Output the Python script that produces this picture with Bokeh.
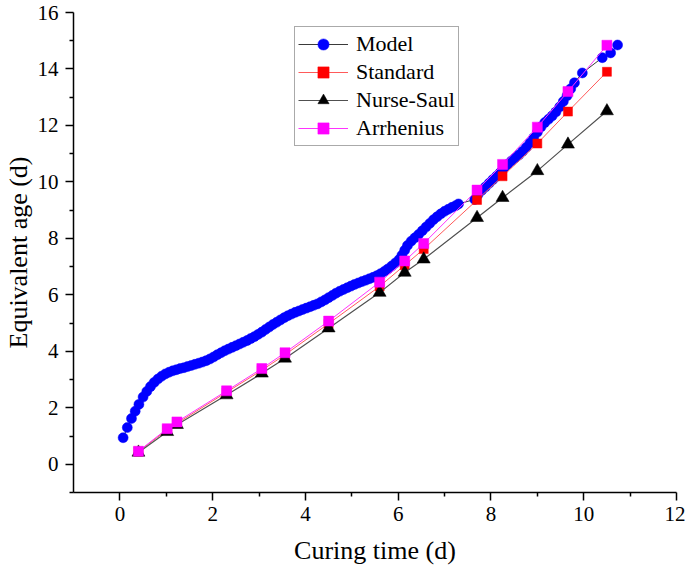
from bokeh.plotting import figure
from bokeh.models import FixedTicker, Legend, LegendItem, Range1d
from bokeh.embed import file_html
from bokeh.resources import INLINE

# ---------------- data ----------------
model_x = [0.07, 0.16, 0.25, 0.33, 0.41, 0.50, 0.58, 0.66, 0.74, 0.82, 0.90, 0.98,
           1.06, 1.14, 1.22, 1.30, 1.38, 1.46, 1.54, 1.62, 1.70, 1.78, 1.86, 1.94,
           2.02, 2.10, 2.18, 2.26, 2.34, 2.42, 2.50, 2.58, 2.66, 2.74, 2.82, 2.90,
           2.98, 3.06, 3.14, 3.22, 3.30, 3.38, 3.46, 3.54, 3.62, 3.70, 3.78, 3.86,
           3.94, 4.02, 4.10, 4.18, 4.26, 4.34, 4.42, 4.50, 4.58, 4.66, 4.74, 4.82,
           4.90, 4.98, 5.06, 5.14, 5.22, 5.30, 5.38, 5.46, 5.54, 5.62, 5.70, 5.78,
           5.86, 5.94, 6.02, 6.08, 6.14, 6.20, 6.28, 6.36, 6.44, 6.52, 6.60, 6.68,
           6.76, 6.84, 6.92, 7.00, 7.08, 7.16, 7.24, 7.30,
           7.65, 7.72, 7.80, 7.88, 7.96, 8.04, 8.12, 8.20, 8.28, 8.36, 8.44, 8.52,
           8.60, 8.68, 8.76, 8.84, 8.92, 9.00, 9.08, 9.16, 9.24, 9.32, 9.40, 9.48,
           9.56, 9.64, 9.72, 9.80, 9.97, 10.40, 10.58, 10.73]
model_y = [0.94, 1.30, 1.62, 1.88, 2.12, 2.38, 2.58, 2.75, 2.90, 3.02, 3.12, 3.20,
           3.26, 3.31, 3.35, 3.39, 3.42, 3.46, 3.50, 3.54, 3.58, 3.62, 3.67, 3.73,
           3.80, 3.88, 3.95, 4.02, 4.08, 4.14, 4.20, 4.26, 4.32, 4.38, 4.45, 4.52,
           4.60, 4.68, 4.77, 4.86, 4.95, 5.03, 5.11, 5.19, 5.26, 5.32, 5.38, 5.43,
           5.48, 5.53, 5.58, 5.63, 5.68, 5.75, 5.82, 5.90, 5.98, 6.06, 6.13, 6.19,
           6.25, 6.31, 6.37, 6.42, 6.47, 6.52, 6.57, 6.62, 6.68, 6.75, 6.83, 6.92,
           7.02, 7.13, 7.25, 7.40, 7.58, 7.75, 7.90, 8.02, 8.14, 8.27, 8.40, 8.53,
           8.66, 8.77, 8.87, 8.96, 9.03, 9.10, 9.16, 9.22,
           9.38, 9.55, 9.70, 9.82, 9.95, 10.08, 10.20, 10.33, 10.48, 10.62, 10.74, 10.85,
           10.95, 11.08, 11.22, 11.38, 11.56, 11.76, 11.95, 12.10, 12.22, 12.34, 12.48, 12.65,
           12.85, 13.05, 13.30, 13.51, 13.86, 14.40, 14.57, 14.85]

time_d = [0.40, 1.02, 1.23, 2.30, 3.06, 3.56, 4.50, 5.60, 6.14, 6.55, 7.70, 8.25, 9.00, 9.66, 10.50]
standard = [0.45, 1.22, 1.45, 2.55, 3.33, 3.88, 4.98, 6.30, 7.05, 7.62, 9.36, 10.20, 11.36, 12.49, 13.90]
nurse_saul = [0.42, 1.15, 1.40, 2.45, 3.22, 3.75, 4.82, 6.08, 6.79, 7.26, 8.73, 9.44, 10.39, 11.33, 12.51]
arrhenius = [0.46, 1.26, 1.50, 2.60, 3.39, 3.95, 5.07, 6.45, 7.20, 7.82, 9.71, 10.62, 11.94, 13.20, 14.84]

x_ticks = [0, 2, 4, 6, 8, 10, 12]
x_minor = [1, 3, 5, 7, 9, 11]
y_ticks = [0, 2, 4, 6, 8, 10, 12, 14, 16]
y_minor = [-1, 1, 3, 5, 7, 9, 11, 13, 15]

FONT = "Liberation Serif"

p = figure(frame_width=603, frame_height=480, output_backend="svg", toolbar_location=None,
           x_range=Range1d(-1, 12), y_range=Range1d(-1, 16),
           min_border_left=64, min_border_right=9, min_border_top=12, min_border_bottom=80)
p.outline_line_color = None
p.xgrid.visible = False
p.ygrid.visible = False
p.background_fill_color = "white"
p.border_fill_color = "white"

for ax, ticks, minor in ((p.xaxis[0], x_ticks, x_minor), (p.yaxis[0], y_ticks, y_minor)):
    ax.ticker = FixedTicker(ticks=ticks, minor_ticks=minor)
    ax.axis_line_color = "black"
    ax.axis_line_width = 1.5
    ax.major_tick_line_color = "black"
    ax.major_tick_line_width = 1.5
    ax.minor_tick_line_color = "black"
    ax.minor_tick_line_width = 1.5
    ax.major_tick_out = 8
    ax.major_tick_in = 0
    ax.minor_tick_out = 4
    ax.minor_tick_in = 0
    ax.major_label_text_font = FONT
    ax.major_label_text_font_size = "21px"
    ax.major_label_text_color = "black"
    ax.axis_label_text_font = FONT
    ax.axis_label_text_font_style = "normal"
    ax.axis_label_text_font_size = "26px"
    ax.axis_label_text_color = "black"

p.xaxis.axis_label = "Curing time (d)"
p.yaxis.axis_label = "Equivalent age (d)"
p.xaxis.major_label_standoff = 6
p.xaxis.axis_label_standoff = 12
p.yaxis.major_label_standoff = 7
p.yaxis.axis_label_standoff = 2

# Model
m_line = p.line(model_x, model_y, line_color="#3a3a3a", line_width=1)
m_pts = p.scatter(model_x, model_y, marker="circle", size=10, fill_color="#0000ff",
                  line_color="#0000ff", line_width=0.5)
# Standard
s_line = p.line(time_d, standard, line_color="#ff5a5a", line_width=1)
s_pts = p.scatter(time_d, standard, marker="square", size=9, fill_color="#ff0000",
                  line_color="#ff0000", line_width=0.5)
# Nurse-Saul
n_line = p.line(time_d, nurse_saul, line_color="#505050", line_width=1.2)
n_pts = p.scatter(time_d, nurse_saul, marker="triangle", size=13, fill_color="black",
                  line_color="black", line_width=0.5)
# Arrhenius
a_line = p.line(time_d, arrhenius, line_color="#ff33ff", line_width=1)
a_pts = p.scatter(time_d, arrhenius, marker="square", size=10, fill_color="#ff00ff",
                  line_color="#ff00ff", line_width=0.5)

legend = Legend(items=[
    LegendItem(label="Model", renderers=[m_line, m_pts]),
    LegendItem(label="Standard", renderers=[s_line, s_pts]),
    LegendItem(label="Nurse-Saul", renderers=[n_line, n_pts]),
    LegendItem(label="Arrhenius", renderers=[a_line, a_pts]),
], location=(221, 346))
legend.label_text_font = FONT
legend.label_text_font_size = "22px"
legend.label_text_color = "black"
legend.glyph_width = 50
legend.glyph_height = 28
legend.label_height = 28
legend.label_standoff = 8
legend.spacing = 0
legend.padding = 3
legend.margin = 0
legend.border_line_color = "#555555"
legend.border_line_width = 1.2
legend.background_fill_alpha = 1.0
p.add_layout(legend, "center")

open("out.html", "w").write(file_html(p, INLINE))
